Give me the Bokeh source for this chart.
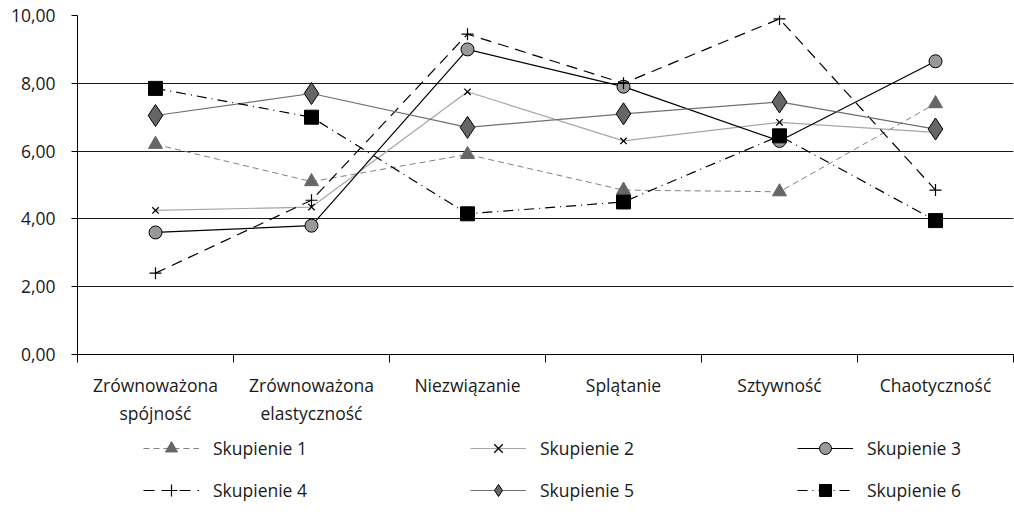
from bokeh.plotting import figure
from bokeh.layouts import column
from bokeh.models import (Range1d, FixedTicker, CustomJSTickFormatter, Legend, LegendItem)
from bokeh.embed import file_html
from bokeh.resources import INLINE

categories = ["Zrównoważona\nspójność", "Zrównoważona\nelastyczność", "Niezwiązanie",
              "Splątanie", "Sztywność", "Chaotyczność"]
s1 = [6.2, 5.1, 5.9, 4.85, 4.8, 7.4]
s2 = [4.25, 4.35, 7.75, 6.3, 6.85, 6.55]
s3 = [3.6, 3.8, 9.0, 7.9, 6.3, 8.65]
s4 = [2.4, 4.55, 9.45, 8.0, 9.9, 4.85]
s5 = [7.05, 7.7, 6.7, 7.1, 7.45, 6.65]
s6 = [7.85, 7.0, 4.15, 4.5, 6.45, 3.95]
series_names = ["Skupienie 1", "Skupienie 2", "Skupienie 3",
                "Skupienie 4", "Skupienie 5", "Skupienie 6"]
y_ticks = [0, 2, 4, 6, 8, 10]

FONT = "Open Sans"
FS = "17.5px"
n = len(categories)
xs = [i + 0.5 for i in range(n)]

styles = [
    (dict(line_color="#808080", line_width=1, line_dash="6 4"),
     dict(marker="triangle", size=14, fill_color="#666666", line_color="#666666")),
    (dict(line_color="#a6a6a6", line_width=1.2),
     dict(marker="x", size=9, line_color="black", line_width=1.3)),
    (dict(line_color="black", line_width=1.2),
     dict(marker="circle", size=13, fill_color="#999999", line_color="black", line_width=1)),
    (dict(line_color="black", line_width=1.2, line_dash="11 7"),
     dict(marker="cross", size=12, line_color="black", line_width=1.2)),
    (dict(line_color="#707070", line_width=1.2),
     dict(marker="diamond", size=22, fill_color="#666666", line_color="black", line_width=1)),
    (dict(line_color="black", line_width=1.2, line_dash="10 5 1 5"),
     dict(marker="square", size=14, fill_color="black", line_color="black")),
]
series = [s1, s2, s3, s4, s5, s6]

p = figure(frame_width=936, frame_height=339, output_backend="svg", toolbar_location=None,
           x_range=Range1d(0, n), y_range=Range1d(0, 10),
           min_border_left=77, min_border_right=1, min_border_top=15, min_border_bottom=75)
p.outline_line_color = None
p.background_fill_color = "white"

p.xgrid.grid_line_color = None
p.ygrid.grid_line_color = "#1a1a1a"
p.ygrid.grid_line_width = 1
p.ygrid.ticker = FixedTicker(ticks=y_ticks)

p.yaxis.ticker = FixedTicker(ticks=y_ticks)
p.yaxis.formatter = CustomJSTickFormatter(code="return tick.toFixed(2).replace('.', ',');")
p.yaxis.axis_line_color = "black"
p.yaxis.major_tick_line_color = "black"
p.yaxis.major_tick_out = 6
p.yaxis.major_tick_in = 0
p.yaxis.minor_tick_line_color = None
p.yaxis.major_label_standoff = 16
p.yaxis.major_label_text_font = FONT
p.yaxis.major_label_text_font_size = FS
p.yaxis.major_label_text_color = "#1a1a1a"

p.xaxis.ticker = FixedTicker(ticks=xs, minor_ticks=list(range(n + 1)))
p.xaxis.major_label_overrides = {x: c for x, c in zip(xs, categories)}
p.xaxis.axis_line_color = "black"
p.xaxis.major_tick_line_color = None
p.xaxis.major_tick_out = 8
p.xaxis.major_tick_in = 0
p.xaxis.minor_tick_line_color = "black"
p.xaxis.minor_tick_out = 8
p.xaxis.minor_tick_in = 0
p.xaxis.major_label_standoff = 10
p.xaxis.major_label_text_font = FONT
p.xaxis.major_label_text_font_size = FS
p.xaxis.major_label_text_color = "#1a1a1a"

for vals, (ls, ms) in zip(series, styles):
    p.line(xs, vals, **ls)
    p.scatter(xs, vals, **ms)

# legend panel: a separate figure below the chart; its ranges keep its own
# copies of the series out of view so that only the legend is shown
p2 = figure(width=1014, height=100, output_backend="svg", toolbar_location=None,
            x_range=Range1d(-100, -99), y_range=Range1d(-100, -99),
            min_border_left=0, min_border_right=0, min_border_top=0, min_border_bottom=0)
p2.axis.visible = False
p2.grid.grid_line_color = None
p2.outline_line_color = None

items = []
for name, vals, (ls, ms) in zip(series_names, series, styles):
    lr = p2.line(xs, vals, **ls)
    mr = p2.scatter(xs, vals, **ms)
    items.append(LegendItem(label=name, renderers=[lr, mr]))

legend = Legend(items=items, orientation="horizontal", nrows=2, location=(66, 24),
                glyph_width=56, glyph_height=30, label_standoff=14, label_width=245,
                spacing=12, padding=0, margin=0,
                label_text_font=FONT, label_text_font_size=FS, label_text_color="#1a1a1a",
                border_line_color=None, background_fill_alpha=0)
p2.add_layout(legend, "center")

layout = column(p, p2, spacing=0)
open("out.html", "w").write(file_html(layout, INLINE))
